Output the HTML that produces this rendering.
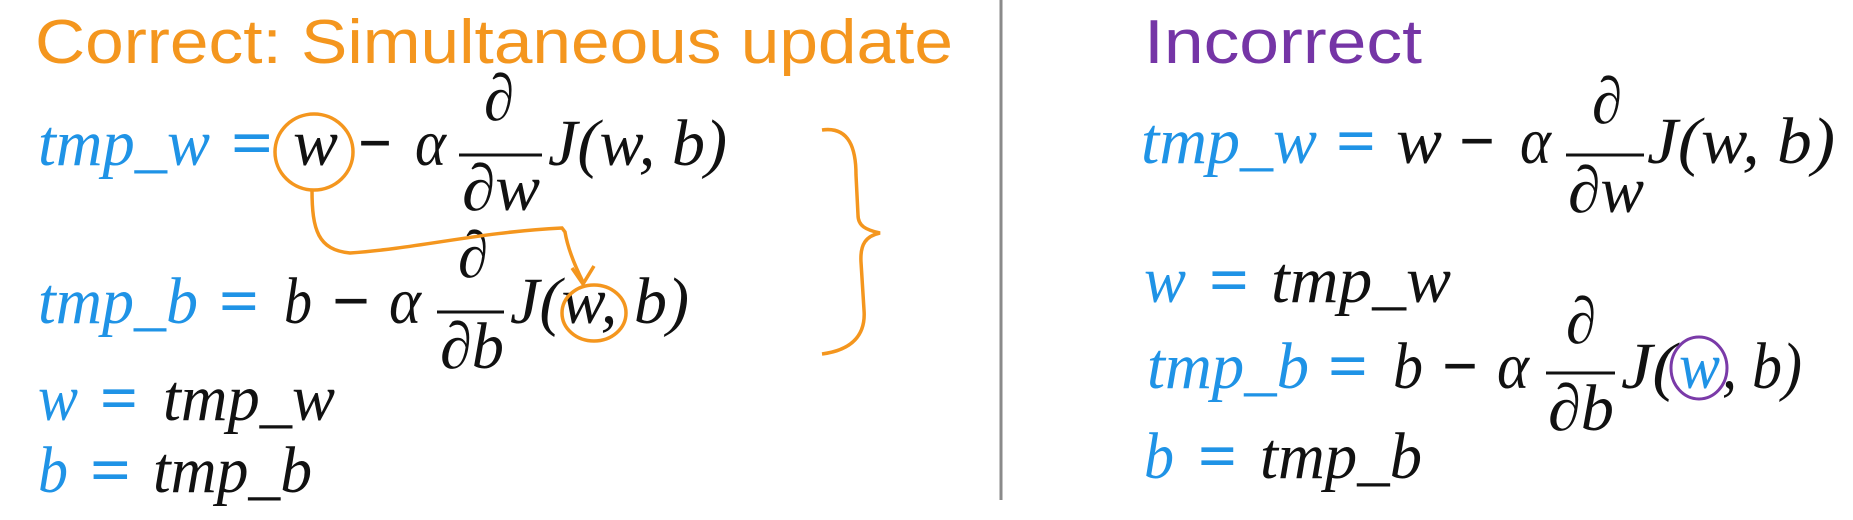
<!DOCTYPE html>
<html><head><meta charset="utf-8"><style>
html,body{margin:0;padding:0;background:#fff;}
svg{display:block;}
.m{font-family:"Liberation Serif",serif;font-style:italic;font-size:66px;}
.u{font-family:"Liberation Serif",serif;font-size:66px;font-weight:bold;}
.b{fill:#1f93e6;}
.k{fill:#111;}
.t{font-family:"Liberation Sans",sans-serif;font-size:52px;}
</style></head><body>
<svg width="1853" height="520" viewBox="0 0 1853 520" xmlns="http://www.w3.org/2000/svg">
<rect width="1853" height="520" fill="#fff"/>
<text x="35" y="63" class="t" fill="#f4961e" textLength="918" lengthAdjust="spacingAndGlyphs" transform="translate(0,63) scale(1,1.2) translate(0,-63)">Correct: Simultaneous update</text>
<text x="1144" y="63" class="t" fill="#7535a6" textLength="278" lengthAdjust="spacingAndGlyphs" transform="translate(0,63) scale(1,1.2) translate(0,-63)">Incorrect</text>
<line x1="1001" y1="0" x2="1001" y2="500" stroke="#8a8a8a" stroke-width="3"/>

<!-- LEFT line1 -->
<text x="38" y="165" class="m b" textLength="172" lengthAdjust="spacingAndGlyphs">tmp_w</text>
<text x="231" y="165" class="u b" textLength="42" lengthAdjust="spacingAndGlyphs">=</text>
<text x="293" y="165" class="m k" textLength="45" lengthAdjust="spacingAndGlyphs">w</text>
<text x="358" y="165" class="u k" textLength="34" lengthAdjust="spacingAndGlyphs">−</text>
<text x="415" y="165" class="m k" textLength="31" lengthAdjust="spacingAndGlyphs">α</text>
<text x="484" y="120" class="m k" textLength="30" lengthAdjust="spacingAndGlyphs">∂</text>
<line x1="459" y1="155" x2="542" y2="155" stroke="#111" stroke-width="3"/>
<text x="462" y="210" class="m k" textLength="78" lengthAdjust="spacingAndGlyphs">∂w</text>
<text x="548" y="165" class="m k" textLength="179" lengthAdjust="spacingAndGlyphs">J(w, b)</text>
<ellipse cx="314" cy="152" rx="39" ry="38" fill="none" stroke="#f4961e" stroke-width="3.5"/>

<!-- LEFT line2 -->
<text x="38" y="323" class="m b" textLength="160" lengthAdjust="spacingAndGlyphs">tmp_b</text>
<text x="219" y="323" class="u b" textLength="40" lengthAdjust="spacingAndGlyphs">=</text>
<text x="284" y="323" class="m k" textLength="28" lengthAdjust="spacingAndGlyphs">b</text>
<text x="332" y="323" class="u k" textLength="38" lengthAdjust="spacingAndGlyphs">−</text>
<text x="389" y="323" class="m k" textLength="32" lengthAdjust="spacingAndGlyphs">α</text>
<text x="458" y="277" class="m k" textLength="30" lengthAdjust="spacingAndGlyphs">∂</text>
<line x1="437" y1="312" x2="504" y2="312" stroke="#111" stroke-width="3"/>
<text x="440" y="368" class="m k" textLength="64" lengthAdjust="spacingAndGlyphs">∂b</text>
<text x="510" y="323" class="m k" textLength="179" lengthAdjust="spacingAndGlyphs">J(w, b)</text>
<ellipse cx="594" cy="313" rx="32" ry="28" fill="none" stroke="#f4961e" stroke-width="3.5"/>

<path d="M312 190 C312 230 318 250 350 253 C420 248 480 232 562 228 L565 232 C568 250 576 268 583 282" fill="none" stroke="#f4961e" stroke-width="3.5"/>
<path d="M572 268 L583 284 L594 266" fill="none" stroke="#f4961e" stroke-width="3.5"/>
<path d="M822 130 C850 126 856 150 856 175 L858 215 C858 226 866 230 880 233 C866 236 860 244 861 262 L864 310 C866 335 852 350 822 354" fill="none" stroke="#f4961e" stroke-width="3.5"/>

<text x="38" y="420" class="m b" textLength="40" lengthAdjust="spacingAndGlyphs">w</text>
<text x="100" y="420" class="u b" textLength="38" lengthAdjust="spacingAndGlyphs">=</text>
<text x="163" y="420" class="m k" textLength="172" lengthAdjust="spacingAndGlyphs">tmp_w</text>
<text x="38" y="492" class="m b" textLength="30" lengthAdjust="spacingAndGlyphs">b</text>
<text x="90" y="492" class="u b" textLength="41" lengthAdjust="spacingAndGlyphs">=</text>
<text x="153" y="492" class="m k" textLength="159" lengthAdjust="spacingAndGlyphs">tmp_b</text>

<!-- RIGHT line1 -->
<text x="1141" y="163" class="m b" textLength="176" lengthAdjust="spacingAndGlyphs">tmp_w</text>
<text x="1336" y="163" class="u b" textLength="40" lengthAdjust="spacingAndGlyphs">=</text>
<text x="1396" y="163" class="m k" textLength="46" lengthAdjust="spacingAndGlyphs">w</text>
<text x="1459" y="163" class="u k" textLength="36" lengthAdjust="spacingAndGlyphs">−</text>
<text x="1520" y="163" class="m k" textLength="31" lengthAdjust="spacingAndGlyphs">α</text>
<text x="1592" y="123" class="m k" textLength="30" lengthAdjust="spacingAndGlyphs">∂</text>
<line x1="1566" y1="155" x2="1644" y2="155" stroke="#111" stroke-width="3"/>
<text x="1568" y="212" class="m k" textLength="76" lengthAdjust="spacingAndGlyphs">∂w</text>
<text x="1647" y="163" class="m k" textLength="188" lengthAdjust="spacingAndGlyphs">J(w, b)</text>

<text x="1144" y="302" class="m b" textLength="42" lengthAdjust="spacingAndGlyphs">w</text>
<text x="1209" y="302" class="u b" textLength="40" lengthAdjust="spacingAndGlyphs">=</text>
<text x="1271" y="302" class="m k" textLength="180" lengthAdjust="spacingAndGlyphs">tmp_w</text>

<text x="1147" y="388" class="m b" textLength="162" lengthAdjust="spacingAndGlyphs">tmp_b</text>
<text x="1328" y="388" class="u b" textLength="40" lengthAdjust="spacingAndGlyphs">=</text>
<text x="1393" y="388" class="m k" textLength="30" lengthAdjust="spacingAndGlyphs">b</text>
<text x="1442" y="388" class="u k" textLength="36" lengthAdjust="spacingAndGlyphs">−</text>
<text x="1497" y="388" class="m k" textLength="32" lengthAdjust="spacingAndGlyphs">α</text>
<text x="1566" y="343" class="m k" textLength="30" lengthAdjust="spacingAndGlyphs">∂</text>
<line x1="1546" y1="373" x2="1615" y2="373" stroke="#111" stroke-width="3"/>
<text x="1548" y="430" class="m k" textLength="66" lengthAdjust="spacingAndGlyphs">∂b</text>
<text x="1621" y="388" class="m k" textLength="55" lengthAdjust="spacingAndGlyphs">J(</text>
<text x="1679" y="388" class="m b" textLength="41" lengthAdjust="spacingAndGlyphs">w</text>
<text x="1722" y="388" class="m k" textLength="80" lengthAdjust="spacingAndGlyphs">, b)</text>
<ellipse cx="1699" cy="368" rx="28" ry="31" fill="none" stroke="#7a3aa8" stroke-width="3"/>

<text x="1144" y="478" class="m b" textLength="30" lengthAdjust="spacingAndGlyphs">b</text>
<text x="1198" y="478" class="u b" textLength="39" lengthAdjust="spacingAndGlyphs">=</text>
<text x="1260" y="478" class="m k" textLength="162" lengthAdjust="spacingAndGlyphs">tmp_b</text>
</svg>
</body></html>
